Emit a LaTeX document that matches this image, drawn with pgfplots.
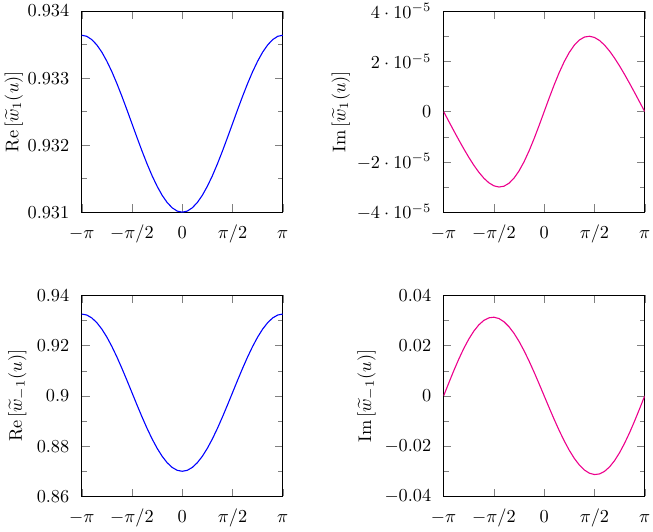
\documentclass[border=0pt]{standalone}
\usepackage{pgfplots}
\pgfplotsset{compat=1.18}
\usepackage{pgfplotstable}
\usepgfplotslibrary{groupplots}
\definecolor{mypink}{RGB}{236,0,140}

% u, Re w1, Im w1, Re w-1, Im w-1
\pgfplotstableread{
u        rea       ima        reb       imb
-3.14159 0.933640  0          0.932560  0
-2.98451 0.933624 -0.3780e-5  0.932175  0.005038
-2.82743 0.933575 -0.7529e-5  0.931029  0.009942
-2.67035 0.933496 -1.1209e-5  0.929151  0.014582
-2.51327 0.933388 -1.4774e-5  0.926586  0.018835
-2.35619 0.933253 -1.8164e-5  0.923398  0.022593
-2.19911 0.933096 -2.1305e-5  0.919666  0.025759
-2.04204 0.932919 -2.4110e-5  0.915481  0.028261
-1.88496 0.932728 -2.6482e-5  0.910946  0.030038
-1.72788 0.932527 -2.8319e-5  0.906173  0.031057
-1.57080 0.932320 -2.9520e-5  0.901280  0.031300
-1.41372 0.932114 -2.9994e-5  0.896387  0.030773
-1.25664 0.931912 -2.9668e-5  0.891614  0.029498
-1.09956 0.931721 -2.8495e-5  0.887079  0.027517
-0.94248 0.931544 -2.6460e-5  0.882894  0.024885
-0.78540 0.931387 -2.3584e-5  0.879162  0.021673
-0.62832 0.931252 -1.9929e-5  0.875974  0.017961
-0.47124 0.931144 -1.5594e-5  0.873409  0.013838
-0.31416 0.931065 -1.0715e-5  0.871531  0.009402
-0.15708 0.931016 -0.5455e-5  0.870385  0.004754
 0.00000 0.931000  0          0.870000  0
 0.15708 0.931016  0.5455e-5  0.870385 -0.004754
 0.31416 0.931065  1.0715e-5  0.871531 -0.009402
 0.47124 0.931144  1.5594e-5  0.873409 -0.013838
 0.62832 0.931252  1.9929e-5  0.875974 -0.017961
 0.78540 0.931387  2.3584e-5  0.879162 -0.021673
 0.94248 0.931544  2.6460e-5  0.882894 -0.024885
 1.09956 0.931721  2.8495e-5  0.887079 -0.027517
 1.25664 0.931912  2.9668e-5  0.891614 -0.029498
 1.41372 0.932114  2.9994e-5  0.896387 -0.030773
 1.57080 0.932320  2.9520e-5  0.901280 -0.031300
 1.72788 0.932527  2.8319e-5  0.906173 -0.031057
 1.88496 0.932728  2.6482e-5  0.910946 -0.030038
 2.04204 0.932919  2.4110e-5  0.915481 -0.028261
 2.19911 0.933096  2.1305e-5  0.919666 -0.025759
 2.35619 0.933253  1.8164e-5  0.923398 -0.022593
 2.51327 0.933388  1.4774e-5  0.926586 -0.018835
 2.67035 0.933496  1.1209e-5  0.929151 -0.014582
 2.82743 0.933575  0.7529e-5  0.931029 -0.009942
 2.98451 0.933624  0.3780e-5  0.932175 -0.005038
 3.14159 0.933640  0          0.932560  0
}\datatable

\begin{document}
\begin{tikzpicture}
\begin{groupplot}[
  group style={group size=2 by 2, horizontal sep=88pt, vertical sep=45.5pt},
  scale only axis,
  width=110pt, height=110pt,
  xmin=-3.14159, xmax=3.14159,
  xtick={-3.14159,-1.5708,0,1.5708,3.14159},
  xticklabels={$-\pi$,$-\pi/2$,$0$,$\pi/2$,$\pi$},
  xticklabel style={anchor=base, inner xsep=1.5pt, inner ysep=2pt, yshift=-14.5pt},
  yticklabel style={inner xsep=0pt, inner ysep=2pt, xshift=-6.6pt},
  ylabel style={at={(rel axis cs:0,0.5)}, anchor=south, inner sep=2.5pt},
  minor y tick num=1,
  scaled y ticks=false,
  every axis plot/.append style={semithick, no markers},
]
\nextgroupplot[
  ymin=0.931, ymax=0.934,
  ytick={0.931,0.932,0.933,0.934},
  yticklabels={$0.931$,$0.932$,$0.933$,$0.934$},
  ylabel={$\mathrm{Re}\left[\widetilde{w}_{1}(u)\right]$},
  ylabel style={yshift=29.5pt},
]
\addplot[blue] table[x=u,y=rea]{\datatable};
\nextgroupplot[
  ymin=-4e-5, ymax=4e-5,
  ytick={-4e-5,-2e-5,0,2e-5,4e-5},
  yticklabels={$-4\cdot10^{-5}$\hspace{-4.8pt},$-2\cdot10^{-5}$\hspace{-4.8pt},$0$,$2\cdot10^{-5}$\hspace{-4.8pt},$4\cdot10^{-5}$\hspace{-4.8pt}},
  ylabel={$\mathrm{Im}\left[\widetilde{w}_{1}(u)\right]$},
  ylabel style={yshift=48.5pt},
]
\addplot[mypink] table[x=u,y=ima]{\datatable};
\nextgroupplot[
  ymin=0.86, ymax=0.94,
  ytick={0.86,0.88,0.9,0.92,0.94},
  yticklabels={$0.86$,$0.88$,$0.9$,$0.92$,$0.94$},
  ylabel={$\mathrm{Re}\left[\widetilde{w}_{-1}(u)\right]$},
  ylabel style={yshift=27.5pt},
]
\addplot[blue] table[x=u,y=reb]{\datatable};
\nextgroupplot[
  ymin=-0.04, ymax=0.04,
  ytick={-0.04,-0.02,0,0.02,0.04},
  yticklabels={$-0.04$,$-0.02$,$0$,$0.02$,$0.04$},
  ylabel={$\mathrm{Im}\left[\widetilde{w}_{-1}(u)\right]$},
  ylabel style={yshift=34.5pt},
]
\addplot[mypink] table[x=u,y=imb]{\datatable};
\end{groupplot}
\end{tikzpicture}
\end{document}
